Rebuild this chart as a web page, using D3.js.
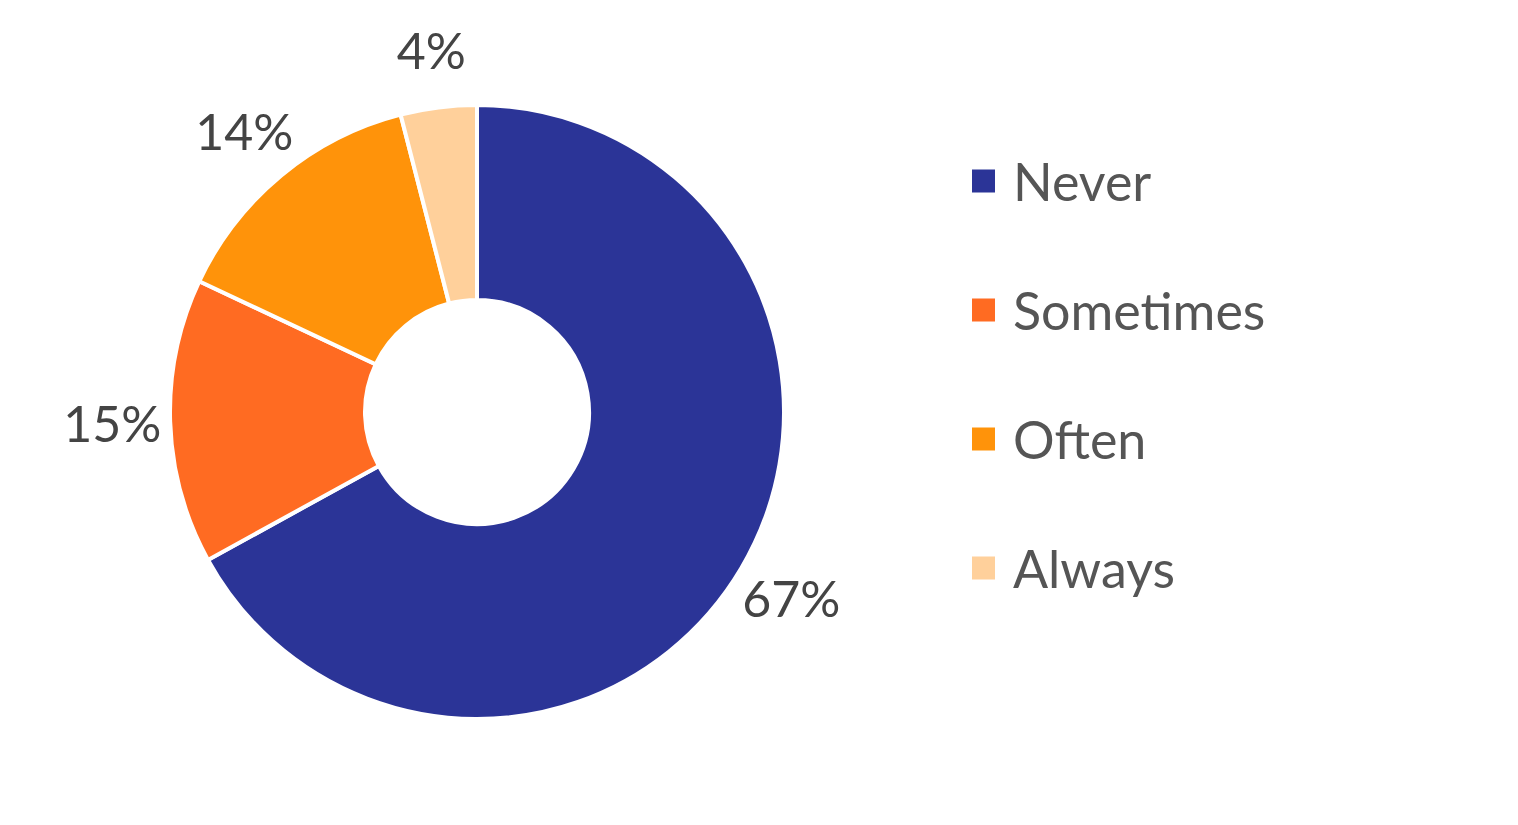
<!DOCTYPE html>
<html><head><meta charset="utf-8">
<script src="https://cdn.jsdelivr.net/npm/d3@7"></script>
<style>body{margin:0;background:#fff}</style></head>
<body><svg id="c" width="1518" height="825"></svg>
<script>
const categories = ["Never","Sometimes","Often","Always"];
const values = [67,15,14,4];
const colors = ["#2B3497","#FF6B22","#FF930A","#FFD09B"];
const svg = d3.select("#c");
const cx=477, cy=412, R=307, r=112;
const g = svg.append("g").attr("transform",`translate(${cx},${cy})`);
const pie = d3.pie().sort(null).value(d=>d)(values);
const arc = d3.arc().innerRadius(r).outerRadius(R);
g.selectAll("path").data(pie).join("path").attr("d",arc)
 .attr("fill",(d,i)=>colors[i]).attr("stroke","#fff").attr("stroke-width",4);
const la = d3.arc().innerRadius(365).outerRadius(365);
g.selectAll("text").data(pie).join("text")
 .attr("transform",d=>`translate(${la.centroid(d)})`)
 .attr("text-anchor","middle").attr("dominant-baseline","central")
 .attr("font-family","Lato, sans-serif").attr("font-size",50).attr("fill","#444")
 .text(d=>d.data+"%");
const lg = svg.append("g");
categories.forEach((c,i)=>{
  const y=181+i*129;
  lg.append("rect").attr("x",972).attr("y",y-11.5).attr("width",23).attr("height",23).attr("fill",colors[i]);
  lg.append("text").attr("x",1013).attr("y",y).attr("dominant-baseline","central")
   .attr("font-family","Lato, sans-serif").attr("font-size",52).attr("fill","#555").text(c);
});
</script></body></html>
